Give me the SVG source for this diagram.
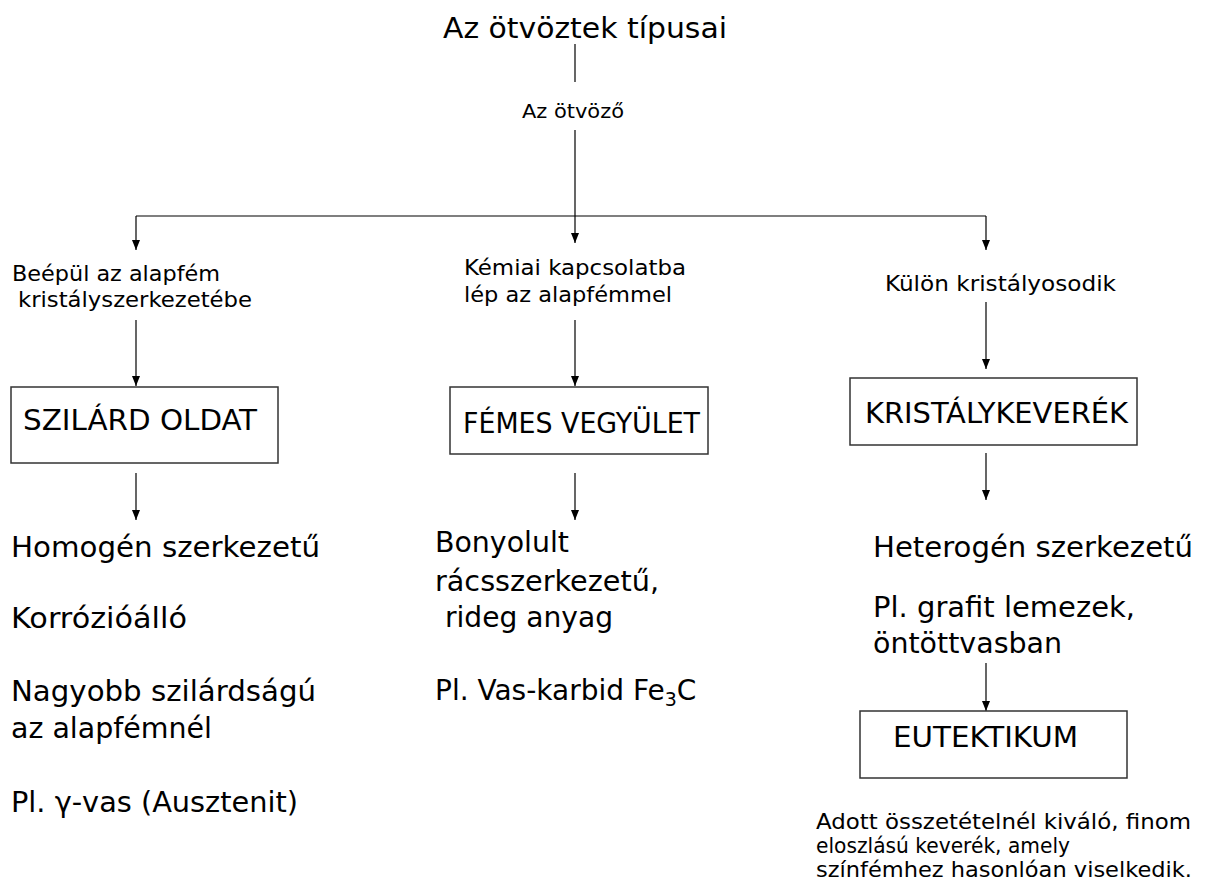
<svg xmlns="http://www.w3.org/2000/svg" width="1210" height="888" viewBox="0 0 1210 888">
<style>
.c{font-family:"DejaVu Sans Condensed","Open Sans","Liberation Sans",sans-serif;fill:#000}
.w{font-family:"DejaVu Sans","Liberation Sans",sans-serif;fill:#000}
.box{fill:#fff;stroke:#333;stroke-width:1.5}
.ln{stroke:#000;stroke-width:1.2;fill:none}
</style>
<defs>
<marker id="ah" viewBox="0 0 10 10" refX="10" refY="5" markerWidth="10" markerHeight="10" markerUnits="userSpaceOnUse" orient="auto">
<path d="M0,1 L10,5 L0,9 Z" fill="#000"/>
</marker>
</defs>
<rect width="1210" height="888" fill="#fff"/>
<g id="connectors">
<line class="ln" x1="575" y1="44" x2="575" y2="82"/>
<line class="ln" x1="575" y1="130" x2="575" y2="243" marker-end="url(#ah)"/>
<line class="ln" x1="136" y1="216" x2="986" y2="216"/>
<line class="ln" x1="136" y1="216" x2="136" y2="250" marker-end="url(#ah)"/>
<line class="ln" x1="986" y1="216" x2="986" y2="250" marker-end="url(#ah)"/>
<line class="ln" x1="136" y1="320" x2="136" y2="386" marker-end="url(#ah)"/>
<line class="ln" x1="575" y1="320" x2="575" y2="386" marker-end="url(#ah)"/>
<line class="ln" x1="986" y1="302" x2="986" y2="369" marker-end="url(#ah)"/>
<line class="ln" x1="136" y1="473" x2="136" y2="520" marker-end="url(#ah)"/>
<line class="ln" x1="575" y1="473" x2="575" y2="520" marker-end="url(#ah)"/>
<line class="ln" x1="986" y1="453" x2="986" y2="500" marker-end="url(#ah)"/>
<line class="ln" x1="986" y1="663" x2="986" y2="711" marker-end="url(#ah)"/>
</g>
<g id="title"><text class="c" x="443" y="38" font-size="28" textLength="284" lengthAdjust="spacingAndGlyphs">Az ötvöztek típusai</text></g>
<g id="otvozo"><text class="c" x="522" y="118" font-size="19" textLength="102" lengthAdjust="spacingAndGlyphs">Az ötvöző</text></g>
<g id="label-left">
<text class="c" x="12" y="281" font-size="21" textLength="208" lengthAdjust="spacingAndGlyphs">Beépül az alapfém</text>
<text class="c" x="18" y="307" font-size="21" textLength="234" lengthAdjust="spacingAndGlyphs">kristályszerkezetébe</text>
</g>
<g id="label-center">
<text class="c" x="464" y="275" font-size="21" textLength="222" lengthAdjust="spacingAndGlyphs">Kémiai kapcsolatba</text>
<text class="c" x="464" y="302" font-size="21" textLength="208" lengthAdjust="spacingAndGlyphs">lép az alapfémmel</text>
</g>
<g id="label-right"><text class="c" x="885" y="291" font-size="21" textLength="231" lengthAdjust="spacingAndGlyphs">Külön kristályosodik</text></g>
<g id="szilard-oldat">
<rect class="box" x="11" y="387" width="267" height="76"/>
<text class="c" x="23" y="430" font-size="28" textLength="234" lengthAdjust="spacingAndGlyphs">SZILÁRD OLDAT</text>
</g>
<g id="femes-vegyulet">
<rect class="box" x="450" y="387" width="258" height="67"/>
<text class="c" x="463" y="433" font-size="28" textLength="237" lengthAdjust="spacingAndGlyphs">FÉMES VEGYÜLET</text>
</g>
<g id="kristalykeverek">
<rect class="box" x="850" y="378" width="287" height="67"/>
<text class="c" x="865" y="423" font-size="28" textLength="263" lengthAdjust="spacingAndGlyphs">KRISTÁLYKEVERÉK</text>
</g>
<g id="left-props">
<text class="w" x="11" y="557" font-size="28" textLength="309" lengthAdjust="spacingAndGlyphs">Homogén szerkezetű</text>
<text class="w" x="11" y="628" font-size="28" textLength="176" lengthAdjust="spacingAndGlyphs">Korrózióálló</text>
<text class="w" x="11" y="701" font-size="28" textLength="305" lengthAdjust="spacingAndGlyphs">Nagyobb szilárdságú</text>
<text class="w" x="11" y="738" font-size="28" textLength="201" lengthAdjust="spacingAndGlyphs">az alapfémnél</text>
<text class="w" x="11" y="812" font-size="28" textLength="287" lengthAdjust="spacingAndGlyphs">Pl. γ-vas (Ausztenit)</text>
</g>
<g id="center-props">
<text class="w" x="435" y="552" font-size="28" textLength="134" lengthAdjust="spacingAndGlyphs">Bonyolult</text>
<text class="w" x="435" y="591" font-size="28" textLength="224" lengthAdjust="spacingAndGlyphs">rácsszerkezetű,</text>
<text class="w" x="445" y="627" font-size="28" textLength="168" lengthAdjust="spacingAndGlyphs">rideg anyag</text>
<text class="w" x="435" y="700" font-size="28">Pl. Vas-karbid Fe<tspan font-size="19" dy="6">3</tspan><tspan dy="-6">C</tspan></text>
</g>
<g id="right-props">
<text class="w" x="873" y="557" font-size="28" textLength="320" lengthAdjust="spacingAndGlyphs">Heterogén szerkezetű</text>
<text class="w" x="873" y="617" font-size="28" textLength="262" lengthAdjust="spacingAndGlyphs">Pl. grafit lemezek,</text>
<text class="w" x="873" y="653" font-size="28" textLength="189" lengthAdjust="spacingAndGlyphs">öntöttvasban</text>
</g>
<g id="eutektikum">
<rect class="box" x="860" y="711" width="267" height="67"/>
<text class="c" x="893" y="747" font-size="28" textLength="185" lengthAdjust="spacingAndGlyphs">EUTEKTIKUM</text>
</g>
<g id="eutektikum-desc">
<text class="w" x="816" y="829" font-size="21" textLength="375" lengthAdjust="spacingAndGlyphs">Adott összetételnél kiváló, finom</text>
<text class="w" x="816" y="853" font-size="21" textLength="254" lengthAdjust="spacingAndGlyphs">eloszlású keverék, amely</text>
<text class="w" x="816" y="877" font-size="21" textLength="376" lengthAdjust="spacingAndGlyphs">színfémhez hasonlóan viselkedik.</text>
</g>
</svg>
